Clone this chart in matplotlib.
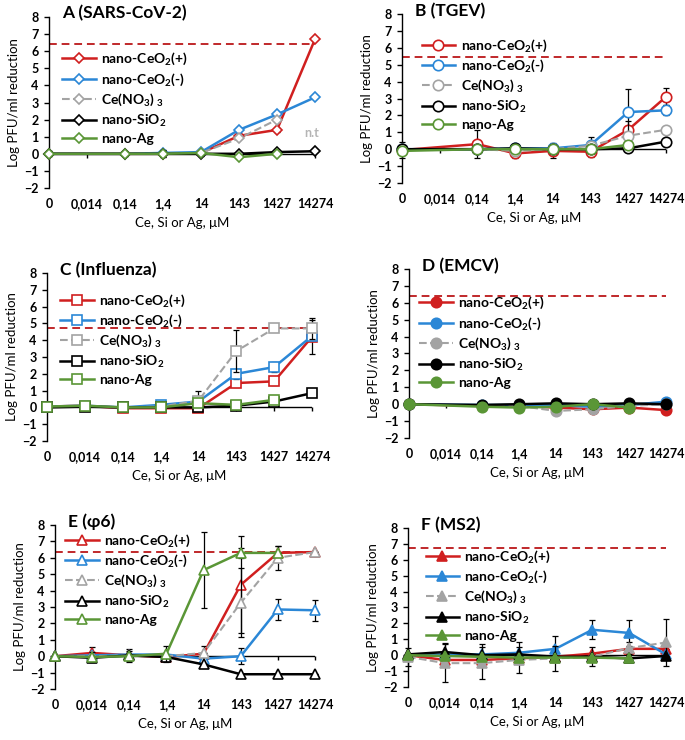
import numpy as np
import matplotlib
matplotlib.use("Agg")
import matplotlib.pyplot as plt

plt.rcParams['font.family'] = ['Lato', 'DejaVu Sans']
plt.rcParams['font.weight'] = 'bold'
plt.rcParams['mathtext.fontset'] = 'custom'
plt.rcParams['mathtext.rm'] = 'Lato:bold'
plt.rcParams['mathtext.bf'] = 'Lato:bold'
plt.rcParams['mathtext.default'] = 'bf'

nan = np.nan

# ---------------- data ----------------
categories = ['0', '0,014', '0,14', '1,4', '14', '143', '1427', '14274']
series_names = ['nano-CeO$_2$(+)', 'nano-CeO$_2$(-)', 'Ce(NO$_3$) $_3$', 'nano-SiO$_2$', 'nano-Ag']
panel_titles = ['A (SARS-CoV-2)', 'B (TGEV)', 'C (Influenza)', 'D (EMCV)', 'E (\u03c66)', 'F (MS2)']
detection_limits = [6.4, 5.45, 4.75, 6.4, 6.35, 6.75]

# Panel A (SARS-CoV-2)
a_ceo2_pos = [0, nan, 0, 0, 0.05, 1.05, 1.4, 6.7]
a_ceo2_neg = [0, nan, 0, 0.05, 0.1, 1.4, 2.3, 3.3]
a_ce_nitrate = [0, nan, 0, 0, 0.05, 0.9, 2.0, nan]
a_sio2 = [0, nan, 0, 0, 0, 0, 0.1, 0.15]
a_ag = [0, nan, 0, 0, 0.05, -0.2, 0, nan]
a_err_pos = [0.15, nan, 0.1, 0.2, 0.1, 0.1, 0.1, 0]
a_err_neg = [0, nan, 0, 0, 0, 0, 0, 0]
a_err_nit = [0, nan, 0, 0, 0, 0, 0, nan]
a_err_sio2 = [0.15, nan, 0.1, 0.2, 0.1, 0.1, 0.1, 0.05]
a_err_ag = [0, nan, 0, 0, 0, 0, 0, nan]

# Panel B (TGEV)
b_ceo2_pos = [-0.05, nan, 0.3, -0.25, -0.1, -0.15, 1.15, 3.1]
b_ceo2_neg = [0, nan, 0, 0.05, 0.05, 0.25, 2.2, 2.3]
b_ce_nitrate = [0, nan, 0, -0.1, 0, 0.2, 0.8, 1.15]
b_sio2 = [0, nan, 0, 0.05, 0, 0, 0.05, 0.45]
b_ag = [-0.1, nan, 0, 0, 0, 0, 0.25, nan]
b_err_pos = [0.45, nan, 0.85, 0.3, 0.45, 0.3, 0.5, 0.5]
b_err_neg = [0, nan, 0, 0, 0, 0.45, 1.35, 0.3]
b_err_nit = [0, nan, 0, 0, 0, 0, 0, 0]
b_err_sio2 = [0, nan, 0, 0, 0, 0, 0, 0]
b_err_ag = [0, nan, 0, 0, 0, 0, 0, nan]

# Panel C (Influenza)
c_ceo2_pos = [0.05, 0.1, -0.05, -0.05, -0.05, 1.45, 1.55, 4.2]
c_ceo2_neg = [0.05, 0.1, 0, 0.15, 0.35, 2.0, 2.4, 4.25]
c_ce_nitrate = [0.05, 0.1, 0, 0.05, 0.4, 3.35, 4.7, 4.7]
c_sio2 = [0, 0.05, 0, 0, 0, 0.1, 0.35, 0.85]
c_ag = [0.05, 0.1, 0, 0, 0.25, 0.15, 0.45, nan]
c_err_pos = [0.1, 0.1, 0.1, 0.1, 0.1, 0.25, 0.2, 1.0]
c_err_neg = [0, 0, 0, 0.1, 0.2, 0.3, 0.3, 0]
c_err_nit = [0, 0, 0, 0, 0.55, 1.25, 0, 0.6]
c_err_sio2 = [0.1, 0.1, 0.1, 0.1, 0.1, 0.1, 0.1, 0.1]
c_err_ag = [0, 0, 0, 0, 0, 0, 0, nan]

# Panel D (EMCV)
d_ceo2_pos = [0, nan, -0.1, -0.1, -0.2, -0.3, -0.2, -0.35]
d_ceo2_neg = [0, nan, -0.05, -0.05, -0.05, -0.15, -0.05, 0.15]
d_ce_nitrate = [0, nan, -0.1, -0.1, -0.4, -0.3, -0.1, 0]
d_sio2 = [0, nan, -0.05, 0, 0.05, 0, 0.05, 0]
d_ag = [0, nan, -0.15, -0.2, -0.15, 0, -0.2, nan]
d_err_pos = [0, nan, 0, 0, 0, 0, 0, 0]
d_err_neg = [0, nan, 0, 0, 0, 0, 0, 0]
d_err_nit = [0, nan, 0, 0, 0, 0, 0, 0]
d_err_sio2 = [0, nan, 0, 0, 0, 0, 0, 0]
d_err_ag = [0, nan, 0, 0, 0, 0, 0, nan]

# Panel E (phi6)
e_ceo2_pos = [0, 0.2, 0.05, -0.05, 0.15, 4.35, 6.3, 6.35]
e_ceo2_neg = [0, 0.05, 0.1, 0.1, -0.15, 0, 2.85, 2.8]
e_ce_nitrate = [0, 0, 0.05, 0, 0.2, 3.25, 6.0, 6.35]
e_sio2 = [0, -0.1, 0.05, -0.05, -0.5, -1.1, -1.1, -1.1]
e_ag = [0, -0.05, 0, 0.15, 5.25, 6.3, 6.3, nan]
e_err_pos = [0, 0.35, 0.4, 0.1, 0.5, 2.95, 0.45, 0]
e_err_neg = [0, 0, 0, 0, 0, 0.5, 0.65, 0.65]
e_err_nit = [0, 0, 0, 0, 0, 2.1, 0.75, 0]
e_err_sio2 = [0, 0, 0, 0, 0, 0, 0, 0]
e_err_ag = [0, 0.3, 0.3, 0.5, 2.3, 0.3, 0, nan]

# Panel F (MS2)
f_ceo2_pos = [0, -0.3, -0.3, -0.2, -0.1, 0.1, 0.4, 0.4]
f_ceo2_neg = [0, 0.05, 0.05, 0.15, 0.4, 1.6, 1.4, 0.05]
f_ce_nitrate = [-0.1, -0.5, -0.5, -0.3, -0.2, -0.1, 0.45, 0.8]
f_sio2 = [0.05, 0.2, 0, 0.05, -0.1, -0.1, -0.2, -0.05]
f_ag = [0, -0.05, -0.1, -0.15, -0.15, -0.15, -0.2, nan]
f_err_pos = [0, 0, 0, 0, 0, 0, 0, 0]
f_err_neg = [0, 0.7, 0.65, 0.7, 0.8, 0.6, 0.8, 0]
f_err_nit = [0.55, 1.2, 1.0, 0.8, 0.8, 0.6, 0.4, 1.45]
f_err_sio2 = [0, 0, 0, 0, 0, 0, 0, 0]
f_err_ag = [0, 0, 0, 0, 0, 0, 0, nan]

# ---------------- styles ----------------
colors = ['#D01F1F', '#2B87D6', '#A3A3A3', '#000000', '#5A9636']
linestyles = ['-', '-', '--', '-', '-']
markers = ['D', 'o', 's', 'o', '^', '^']
marker_filled = [False, False, False, True, False, True]
marker_sizes = [5.5, 7.5, 7, 7.5, 7.5, 7.5]
limit_color = '#C0282A'

panel_values = [
    [a_ceo2_pos, a_ceo2_neg, a_ce_nitrate, a_sio2, a_ag],
    [b_ceo2_pos, b_ceo2_neg, b_ce_nitrate, b_sio2, b_ag],
    [c_ceo2_pos, c_ceo2_neg, c_ce_nitrate, c_sio2, c_ag],
    [d_ceo2_pos, d_ceo2_neg, d_ce_nitrate, d_sio2, d_ag],
    [e_ceo2_pos, e_ceo2_neg, e_ce_nitrate, e_sio2, e_ag],
    [f_ceo2_pos, f_ceo2_neg, f_ce_nitrate, f_sio2, f_ag],
]
panel_errors = [
    [a_err_pos, a_err_neg, a_err_nit, a_err_sio2, a_err_ag],
    [b_err_pos, b_err_neg, b_err_nit, b_err_sio2, b_err_ag],
    [c_err_pos, c_err_neg, c_err_nit, c_err_sio2, c_err_ag],
    [d_err_pos, d_err_neg, d_err_nit, d_err_sio2, d_err_ag],
    [e_err_pos, e_err_neg, e_err_nit, e_err_sio2, e_err_ag],
    [f_err_pos, f_err_neg, f_err_nit, f_err_sio2, f_err_ag],
]

W, H = 685, 740
# axes boxes in pixels: left, right, top, bottom
axes_px = [
    (49, 315, 17, 188),
    (402, 666, 14, 183),
    (47, 312, 273, 441),
    (409, 666, 269, 438),
    (55, 315, 525, 689),
    (408, 666, 528, 687),
]
legend_anchor = [(0.05, 0.80), (0.075, 0.862), (0.05, 0.885), (0.04, 0.845), (0.04, 0.955), (0.068, 0.872)]

fig = plt.figure(figsize=(W / 100, H / 100), dpi=100)
x = np.arange(len(categories))

for p in range(6):
    l, r, t, b = axes_px[p]
    ax = fig.add_axes([l / W, 1 - b / H, (r - l) / W, (b - t) / H])
    ax.set_xlim(0, len(categories) - 1)
    ax.set_ylim(-2, 8)
    ax.axhline(0, color='black', lw=1.0, zorder=1)
    ax.plot([0, len(categories) - 1], [detection_limits[p]] * 2, color=limit_color,
            ls=(0, (4, 2.5)), lw=1.4, zorder=1, clip_on=False)
    for s in range(5):
        v = np.array(panel_values[p][s], dtype=float)
        e = np.array(panel_errors[p][s], dtype=float)
        m = ~np.isnan(v)
        c = colors[s]
        ax.errorbar(x[m], v[m], yerr=np.nan_to_num(e[m]), fmt='none', ecolor='black',
                    elinewidth=0.9, capsize=2, capthick=0.9, zorder=2 + s, clip_on=False)
        ax.plot(x[m], v[m], color=c, ls=linestyles[s], lw=1.8 if s != 2 else 1.5,
                marker=markers[p], markersize=marker_sizes[p],
                markerfacecolor=c if marker_filled[p] else 'white',
                markeredgecolor=c, markeredgewidth=1.2,
                label=series_names[s], zorder=3 + s, clip_on=False)
    ax.spines['top'].set_visible(False)
    ax.spines['right'].set_visible(False)
    ax.spines['bottom'].set_visible(False)
    ax.spines['left'].set_linewidth(1.0)
    ax.set_yticks(np.arange(-2, 9, 1))
    ax.set_xticks(x)
    ax.set_xticklabels(categories)
    ax.tick_params(axis='x', length=0, pad=7, labelsize=9)
    ax.tick_params(axis='y', length=3.5, width=1, pad=4, labelsize=9)
    sec = ax.secondary_xaxis(0.2)
    sec.set_xticks(x)
    sec.tick_params(axis='x', length=3, width=1, labelbottom=False)
    sec.spines['bottom'].set_visible(False)
    ax.set_ylabel('Log PFU/ml reduction', fontsize=9.5, labelpad=3)
    ax.set_xlabel('Ce, Si or Ag, \u03bcM', fontsize=9.5, labelpad=5)
    ax.text(0.05, 1.02, panel_titles[p], transform=ax.transAxes, fontsize=12.5,
            fontweight='bold', va='center', ha='left')
    ax.legend(loc='upper left', bbox_to_anchor=legend_anchor[p], frameon=False,
              fontsize=10, handlelength=2.4, handletextpad=0.4, labelspacing=0.3,
              borderpad=0, borderaxespad=0)
    if p == 0:
        ax.text(6.9, 1.2, 'n.t', color='#B5B5B5', fontsize=9, ha='center', va='center')

fig.savefig('out.png', dpi=100)
